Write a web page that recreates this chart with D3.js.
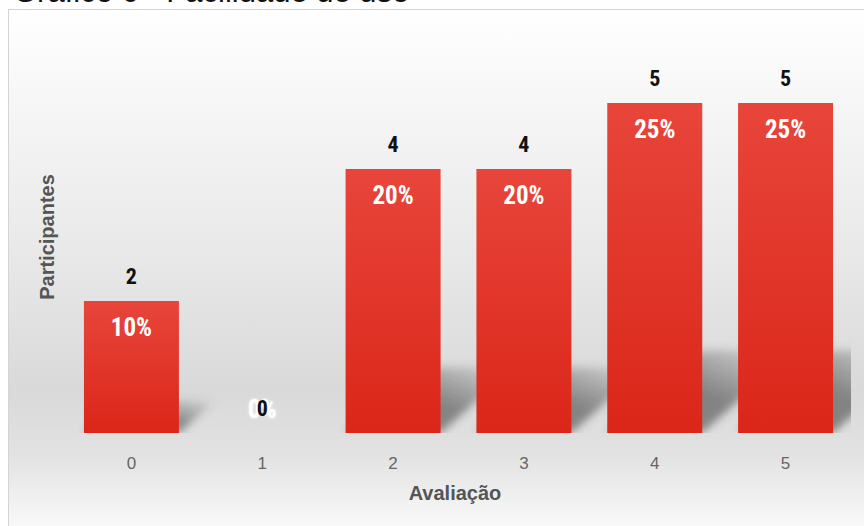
<!DOCTYPE html>
<html>
<head>
<meta charset="utf-8">
<script src="https://cdn.jsdelivr.net/npm/d3@7/dist/d3.min.js"></script>
<style>
  html, body { margin: 0; padding: 0; background: #ffffff; overflow: hidden; }
  svg { display: block; }
</style>
</head>
<body>
<svg id="chart" width="864" height="526"></svg>
<script>
// Avaliação da facilidade de uso (escala 0–5)
const categories = ["0", "1", "2", "3", "4", "5"];
const participants = [2, 0, 4, 4, 5, 5];
const percentLabels = ["10%", "0%", "20%", "20%", "25%", "25%"];
const titleText = "Gráfico 6 - Facilidade de uso";
const xTitle = "Avaliação";
const yTitle = "Participantes";

const svg = d3.select("#chart");
const defs = svg.append("defs");

// Fundo do painel: branco no topo, cinza no meio, branco embaixo
const bg = defs.append("linearGradient").attr("id", "bgGrad")
  .attr("x1", 0).attr("y1", 0).attr("x2", 0).attr("y2", 1);
[[0, "#ffffff"], [0.08, "#fbfbfb"], [0.45, "#e9e9e9"], [0.72, "#d9d9d9"], [0.84, "#e2e2e2"], [1, "#fdfdfd"]]
  .forEach(([o, c]) => bg.append("stop").attr("offset", o).attr("stop-color", c));

// Barras vermelhas com leve degradê
const barGrad = defs.append("linearGradient").attr("id", "barGrad")
  .attr("x1", 0).attr("y1", 0).attr("x2", 0).attr("y2", 1);
barGrad.append("stop").attr("offset", 0).attr("stop-color", "#e8453b");
barGrad.append("stop").attr("offset", 1).attr("stop-color", "#db2619");

// Sombra projetada das barras
const shGrad = defs.append("linearGradient").attr("id", "shGrad")
  .attr("gradientUnits", "objectBoundingBox")
  .attr("x1", 0).attr("y1", 1).attr("x2", 1).attr("y2", 0);
shGrad.append("stop").attr("offset", 0.5).attr("stop-color", "#4a4a4a").attr("stop-opacity", 0.6);
shGrad.append("stop").attr("offset", 1).attr("stop-color", "#4a4a4a").attr("stop-opacity", 0);
const blur = defs.append("filter").attr("id", "shBlur")
  .attr("x", "-20%").attr("y", "-20%").attr("width", "140%").attr("height", "140%");
blur.append("feGaussianBlur").attr("stdDeviation", 4);

defs.append("clipPath").attr("id", "plotClip")
  .append("rect").attr("x", 9).attr("y", 10).attr("width", 842).attr("height", 423);

const glow = defs.append("filter").attr("id", "glow")
  .attr("x", "-50%").attr("y", "-50%").attr("width", "200%").attr("height", "200%");
glow.append("feGaussianBlur").attr("in", "SourceAlpha").attr("stdDeviation", 1.5).attr("result", "b");
glow.append("feFlood").attr("flood-color", "#ffffff").attr("flood-opacity", 0.9);
glow.append("feComposite").attr("in2", "b").attr("operator", "in").attr("result", "g");
const gm = glow.append("feMerge");
gm.append("feMergeNode").attr("in", "g");
gm.append("feMergeNode").attr("in", "SourceGraphic");

// Título (parcialmente acima da área visível)
svg.append("text")
  .attr("x", 13).attr("y", 2)
  .attr("font-family", "Liberation Sans, Arial, sans-serif")
  .attr("font-size", 31)
  .attr("fill", "#111")
  .text(titleText);

// Painel
svg.append("rect")
  .attr("x", 8.5).attr("y", 9.5).attr("width", 870).attr("height", 530)
  .attr("fill", "url(#bgGrad)")
  .attr("stroke", "#d4d4d4").attr("stroke-width", 1);

const x = d3.scaleBand().domain(categories).range([66, 851])
  .paddingInner(0.274).paddingOuter(0.137);
const y = d3.scaleLinear().domain([0, 5]).range([433, 103]);

const data = categories.map((c, i) => ({ c, v: participants[i], p: percentLabels[i] }));

// Sombras
svg.append("g").attr("clip-path", "url(#plotClip)")
  .selectAll("path").data(data.filter(d => d.v > 0)).join("path")
  .attr("d", d => {
    const x0 = x(d.c), x1 = x(d.c) + x.bandwidth();
    const h = y(0) - y(d.v);
    const dx = h * 0.28, dy = h * 0.25;
    return `M${x0},${y(0)}L${x1},${y(0)}L${x1 + dx},${y(0) - dy}L${x0 + dx},${y(0) - dy}Z`;
  })
  .attr("fill", "url(#shGrad)")
  .attr("filter", "url(#shBlur)");

// Barras
svg.append("g").selectAll("rect").data(data).join("rect")
  .attr("x", d => x(d.c))
  .attr("y", d => y(d.v))
  .attr("width", x.bandwidth())
  .attr("height", d => y(0) - y(d.v))
  .attr("fill", "url(#barGrad)");

const labelFont = "'Liberation Sans Narrow', 'Arial Narrow', 'Roboto Condensed', 'Liberation Sans', sans-serif";
const floorY = y(0) - 24;

// Percentuais (brancos, dentro das barras)
svg.append("g").selectAll("text").data(data).join("text")
  .attr("x", d => x(d.c) + x.bandwidth() / 2)
  .attr("y", d => Math.min(y(d.v) + 26, floorY))
  .attr("dy", "0.35em")
  .attr("text-anchor", "middle")
  .attr("font-family", labelFont)
  .attr("font-weight", "bold")
  .attr("font-size", 25)
  .attr("fill", "#ffffff")
  .attr("filter", d => d.v === 0 ? "url(#glow)" : null)
  .text(d => d.p);

// Quantidade de participantes (acima das barras)
svg.append("g").selectAll("text").data(data).join("text")
  .attr("x", d => x(d.c) + x.bandwidth() / 2)
  .attr("y", d => Math.min(y(d.v) - 25, floorY))
  .attr("dy", "0.35em")
  .attr("text-anchor", "middle")
  .attr("font-family", labelFont)
  .attr("font-weight", "bold")
  .attr("font-size", 22)
  .attr("fill", "#111111")
  .text(d => d.v);

// Eixo X
const xAxis = svg.append("g")
  .attr("transform", `translate(0,${y(0)})`)
  .call(d3.axisBottom(x).tickSize(0).tickPadding(24));
xAxis.select(".domain").remove();
xAxis.selectAll("text")
  .attr("font-family", "'Liberation Sans', Arial, sans-serif")
  .attr("font-size", 17)
  .attr("fill", "#666666");

svg.append("text")
  .attr("x", 455).attr("y", 493)
  .attr("dy", "0.35em")
  .attr("text-anchor", "middle")
  .attr("font-family", "'Liberation Sans', Arial, sans-serif")
  .attr("font-weight", "bold")
  .attr("font-size", 20)
  .attr("fill", "#555555")
  .text(xTitle);

svg.append("text")
  .attr("transform", "translate(47,237) rotate(-90)")
  .attr("dy", "0.35em")
  .attr("text-anchor", "middle")
  .attr("font-family", "'Liberation Sans', Arial, sans-serif")
  .attr("font-weight", "bold")
  .attr("font-size", 20)
  .attr("fill", "#555555")
  .text(yTitle);
</script>
</body>
</html>
